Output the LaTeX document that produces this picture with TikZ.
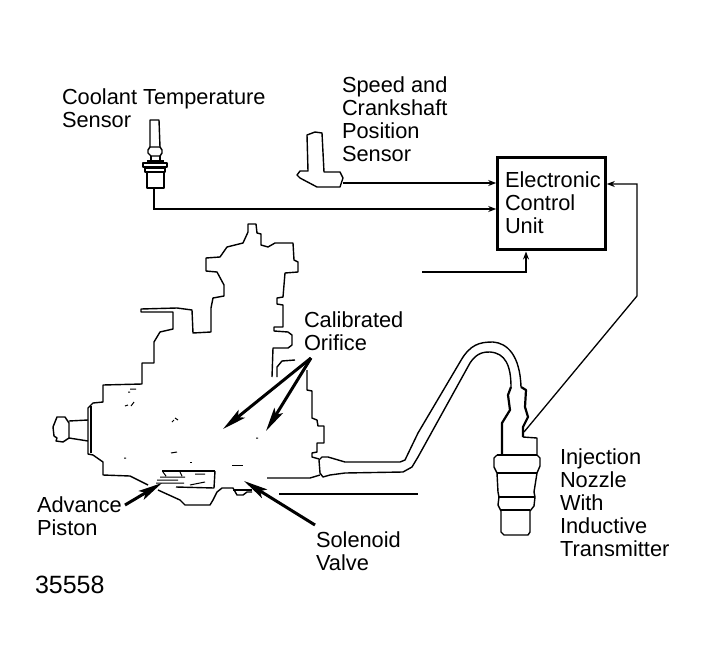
\documentclass[tikz,border=0pt]{standalone}
\usepackage{fontspec}
\setmainfont{Liberation Sans}
\usetikzlibrary{arrows.meta}
\tikzset{
 lbl/.style={anchor=north west,inner sep=0pt,outer sep=0pt,align=left,font=\fontsize{21.8}{22.8}\selectfont},
 art/.style={line width=1.4pt,line join=round,black},
 heavyart/.style={line width=2.2pt,line join=round,black},
 signal/.style={line width=1.3pt,-{Stealth[length=8pt,width=6pt]}},
 pointer/.style={line width=3pt,-{Stealth[length=24pt,width=10pt,inset=5pt]}},
 speck/.style={line width=1pt,black}
}
\begin{document}
\begin{tikzpicture}[x=1pt,y=-1pt]
\useasboundingbox (0,0) rectangle (705,670);
% labels
\node[lbl] (coolant) at (62,89) {Coolant Temperature\\Sensor};
\node[lbl] (speed) at (342,77) {Speed and\\Crankshaft\\Position\\Sensor};
\node[lbl] (calib) at (304,312) {Calibrated\\Orifice};
\node[lbl] (inj) at (560,449) {Injection\\Nozzle\\With\\Inductive\\Transmitter};
\node[lbl] (adv) at (37,497) {Advance\\Piston};
\node[lbl,font=\fontsize{25}{25}\selectfont] (num) at (35,576) {35558};
\node[lbl] (sol) at (316,532) {Solenoid\\Valve};
% ECU
\node[draw,line width=2.6pt,minimum width=108pt,minimum height=92pt,inner sep=0pt] (ecu) at (551.5,203.5) {};
\node[lbl] (ecutext) at (505,172) {Electronic\\Control\\Unit};
% coolant sensor
\draw[art] (150,147)--(150,120)--(159,120)--(160,147);
\draw[art] (150,147)--(148,150)--(148,153)--(151,156)--(160,156)--(162,153)--(162,150)--(160,147)--cycle;
\draw[art] (151,156)--(151,161) (160,156)--(160,161);
\draw[heavyart] (147,161)--(164,161) (143,163)--(167,163)--(167,167)--(143,167)--cycle;
\draw[art] (145,168)--(165,168)--(165,172)--(145,172)--cycle;
\draw[art] (147,173)--(147,188)--(164,188)--(164,173);
\coordinate (coolantout) at (154,188);
% speed sensor
\draw[art] (308,171)--(307,135)--(315,132)--(322,133)--(324,172)--(340,172)--(343,178)--(340,187)--(317,187)--(300,178)--(297,175)--(300,171)--cycle;
\coordinate (speedout) at (343,183);
% signal lines
\draw[signal] (speedout)--(speedout-|ecu.west);
\draw[line width=2.6pt] (coolantout)--(154,209)--(400,209);
\coordinate (coolturn) at (400,209);
\draw[signal] (coolturn)--(coolturn-|ecu.west);
\coordinate (feed) at (422,272);
\draw[signal] (feed)-|(526,251.5) coordinate (feedend);
\coordinate (nozzlewire) at (524,432);
\coordinate (wirebend) at (637,296);
\coordinate (wiretop) at (637,184);
\draw[signal] (nozzlewire)--(wirebend)--(wiretop)--(wiretop-|ecu.east);
% pump outline
\draw[art] (272,377)--(273,348)--(288,348)--(292,345)--(292,335)--(288,332)--(274,331)--(274,327)--(283,327)--(283,305)--(277,304)--(277,298)--(283,297)--(285,273)--(298,272)--(298,262)--(294,260)--(293,243)--(275,243)--(268,247)--(261,245)--(261,234)--(257,233)--(256,224)--(248,224)--(248,232)--(243,243)--(227,247)--(220,257)--(206,258)--(206,271)--(217,272)--(224,285)--(224,296)--(213,298)--(211,308)--(211,332)--(193,333)--(192,310)--(177,308)--(141,309)--(141,312)--(173,312)--(173,329)--(160,332)--(154,342)--(154,363)--(142,363)--(142,384)--(103,385)--(103,402)--(93,403)--(88,408)--(88,454)--(93,455)--(103,462)--(103,475)--(130,476)--(148,485);
\draw[art] (158,490)--(180,500)--(185,505)--(210,505)--(213,500)--(217,492)--(222,488)--(233,488)--(237,495)--(243,495)--(247,492)--(252,492);
\draw[art] (233,490)--(252,490);
\draw[art] (277,377)--(277,367)--(282,361)--(295,360);
\draw[art] (307,370)--(307,390)--(312,391)--(312,418)--(317,420)--(318,426)--(324,426)--(324,443)--(317,443)--(317,452)--(312,453)--(312,457)--(319,459);
\draw[art] (267,478)--(310,478)--(320,475);
\draw[heavyart] (279,494)--(418,494);
% knob
\draw[heavyart] (91,406)--(91,453);
\draw[art] (69,421)--(88,420) (69,438)--(88,441);
\draw[art] (69,423)--(65,417)--(57,417)--(53,427)--(54,436)--(57,438)--(56,441)--(63,442)--(69,438)--cycle;
% piston detail
\draw[heavyart] (162,471)--(215,471);
\draw[art] (215,471)--(214,488)--(176,487);
\draw[speck] (160,477)--(185,477) (157,480)--(178,480) (156,483)--(184,483) (190,485)--(205,482) (195,474)--(205,474) (163,472)--(166,476) (180,472)--(182,476);
\draw[speck] (232,465)--(243,465) (190,462)--(192,462);
\draw[speck] (130,389)--(136,389) (128,392)--(130,392) (131,406)--(134,402) (125,406)--(128,405) (175,418)--(178,420) (172,422)--(174,420) (171,453)--(177,452) (124,458)--(126,458) (256,438)--(258,438);
% pipe and nozzle
\draw[art] (319,460)--(322,457)--(328,457)--(345,462)--(400,462)--(405,460)--(418,433)--(460,362) .. controls (470,344) and (480,342) .. (493,342) .. controls (507,343) and (520,355) .. (521,387);
\draw[art] (319,460)--(320,473)--(323,477)--(330,475)--(345,473)--(403,472)--(412,467)--(418,457)--(470,363) .. controls (477,352) and (485,352) .. (490,352) .. controls (505,353) and (511,365) .. (511,387);
\draw[heavyart] (511,387)--(508,395)--(510,410)--(502,423)--(502,455);
\draw[heavyart] (521,387)--(526,390)--(525,407)--(528,417)--(523,427)--(523,437);
\draw[art] (523,437)--(537,438)--(537,455);
\draw[heavyart] (497,455)--(537,455);
\draw[art] (497,455)--(494,458)--(494,467)--(497,473)--(498,492)--(499,497)--(498,505)--(501,511);
\draw[art] (537,455)--(540,458)--(540,466)--(537,473)--(534,492)--(535,497)--(534,506)--(530,511);
\draw[art] (497,473)--(537,473);
\draw[art] (498,497)--(535,497);
\draw[heavyart] (501,510)--(530,510);
\draw[art] (501,511)--(501,532)--(504,535)--(528,535)--(530,532)--(530,511);
% pointers
\coordinate (ctail) at (311,358);
\coordinate (ctip1) at (223,429);
\coordinate (ctip2) at (266,431);
\draw[pointer] (ctail)--(ctip1);
\draw[pointer] (ctail)--(ctip2);
\coordinate (atail) at (125,505);
\coordinate (atip) at (162,483);
\draw[pointer] (atail)--(atip);
\coordinate (stail) at (315,525);
\coordinate (stip) at (244,481);
\draw[pointer] (stail)--(stip);
\end{tikzpicture}
\end{document}
